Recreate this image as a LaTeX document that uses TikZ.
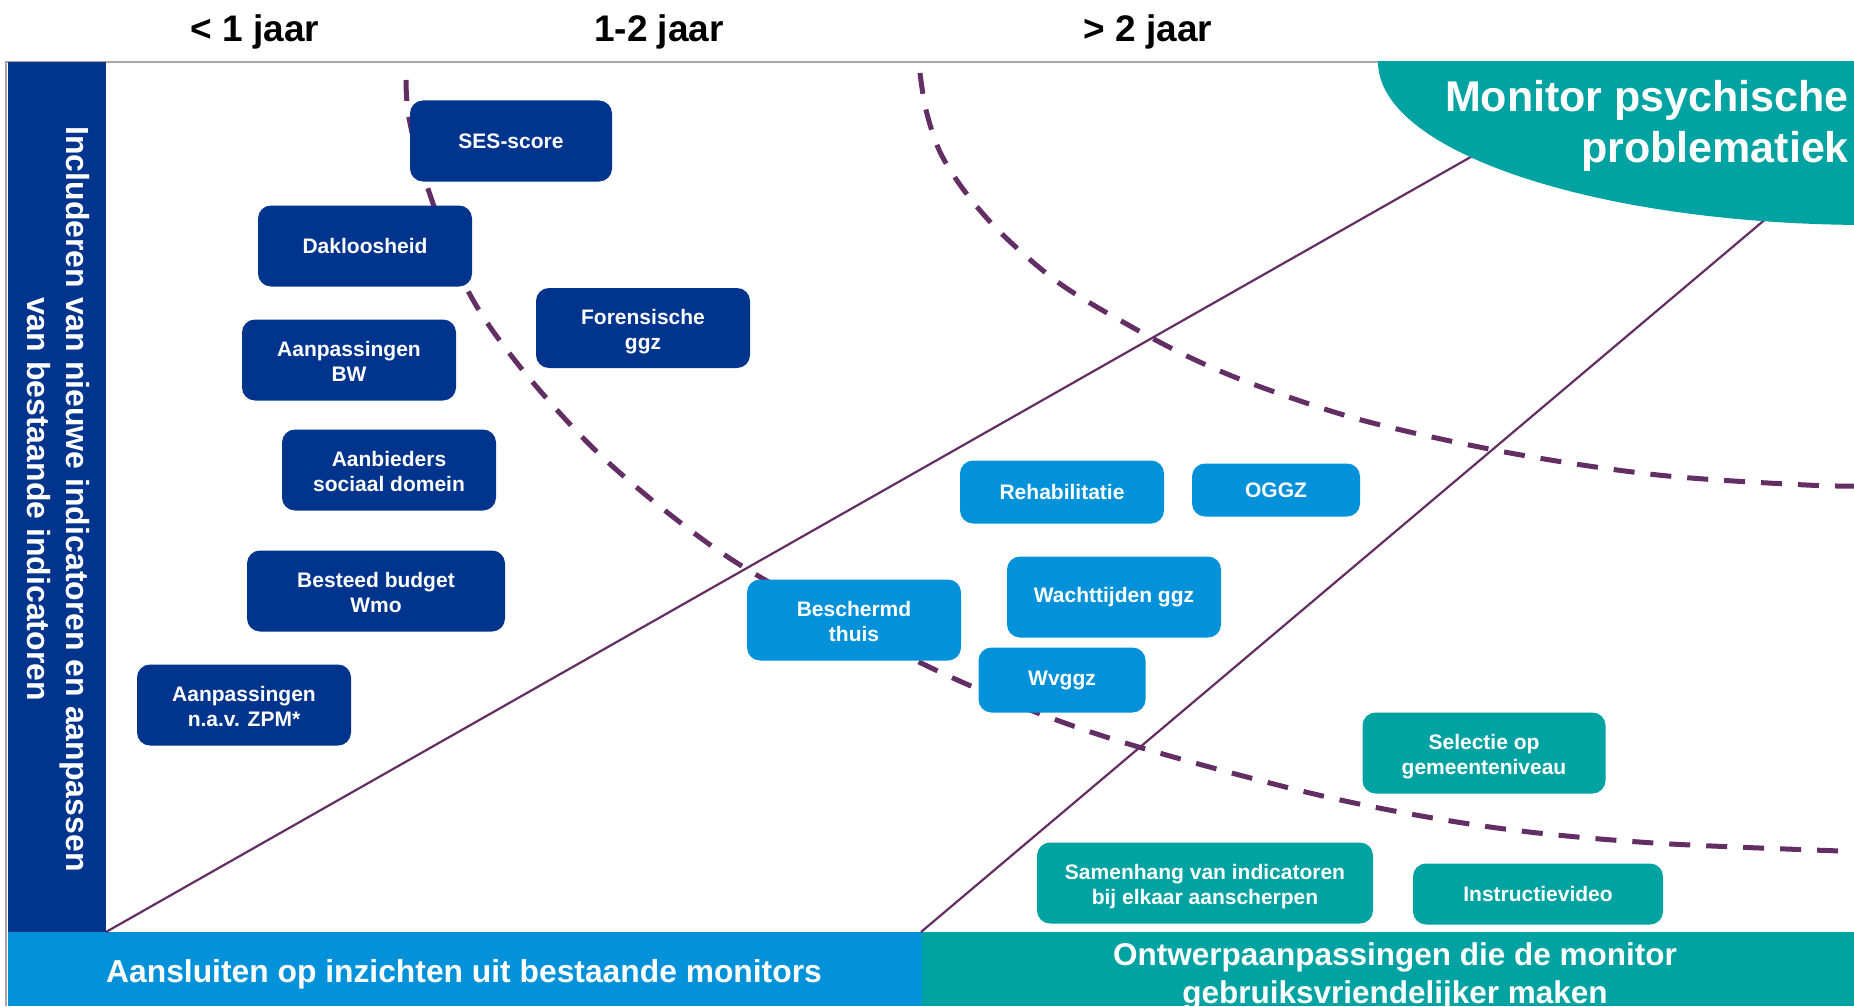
\documentclass[tikz,border=0pt]{standalone}
\usepackage{fontspec}
\setmainfont{Liberation Sans}
\definecolor{dblue}{RGB}{0,52,141}
\definecolor{lblue}{RGB}{3,146,218}
\definecolor{tealc}{RGB}{0,163,161}
\definecolor{purp}{RGB}{99,46,99}
\definecolor{grayline}{RGB}{166,166,166}
\newcommand{\dstrut}{\rule[-4.5pt]{0pt}{0pt}}
\newcommand{\ustrut}{\rule{0pt}{22.8pt}}
\tikzset{
  box/.style 2 args={rounded corners=13pt, minimum width=#1pt, minimum height=#2pt,
    inner sep=0pt, text=white, align=center, font=\fontsize{21}{25.5}\selectfont\bfseries},
  dbox/.style={fill=dblue},
  lbox/.style={fill=lblue},
  tbox/.style={fill=tealc},
  dashcurve/.style={draw=purp, line width=5pt, dash pattern=on 21pt off 16pt},
  solidline/.style={draw=purp, line width=2.2pt},
  header/.style={anchor=base, inner sep=0pt, font=\fontsize{37}{44}\selectfont\bfseries},
  wtext/.style={anchor=base, inner sep=0pt, text=white},
}
\begin{document}
\begin{tikzpicture}[x=1pt,y=-1pt]
\useasboundingbox (0,0) rectangle (1854,1006);
\clip (0,0) rectangle (1854,1006);
\fill[white] (0,0) rectangle (1854,1006);

% frame lines
\draw[grayline, line width=2pt] (6,1006) -- (6,62) -- (1380,62);
% left bar
\fill[dblue] (8,62) rectangle (106,932);
% bottom bars
\fill[lblue] (8,932) rectangle (922,1006);
\fill[tealc] (922,932) rectangle (1854,1006);

% solid diagonal lines
\coordinate (l1a) at (106,932);
\coordinate (l1b) at (1520,129);
\coordinate (l2a) at (921,932);
\coordinate (l2b) at (1800,190);
\draw[solidline] (l1a) -- (l1b);
\draw[solidline] (l2a) -- (l2b);

% teal ellipse
\begin{scope}
  \clip (0,62) rectangle (1854,1006);
  \fill[tealc] (1870,62) ellipse [x radius=492pt, y radius=163pt];
\end{scope}

% dashed curves
\draw[dashcurve] plot[smooth, tension=0.55] coordinates {(406,80) (409,118) (426,183) (466,287) (517,363) (593,448) (677,520) (760,577) (919,662) (1030,710) (1142,748) (1327,797) (1490,827) (1654,843) (1870,852)};
\draw[dashcurve] plot[smooth, tension=0.55] coordinates {(920,73) (926,110) (940,152) (966,193) (1003,235) (1059,283) (1123,322) (1189,357) (1258,386) (1365,421) (1510,453) (1658,475) (1806,485) (1870,486)};

% dark blue boxes
\node[box={202}{81}, dbox] (ses) at (511,141) {SES-score};
\node[box={214}{81}, dbox] (dak) at (365,246) {Dakloosheid};
\node[box={214}{80}, dbox] (foren) at (643,328) {\ustrut Forensische\\ggz\dstrut};
\node[box={214}{81}, dbox] (bw) at (349,360) {\ustrut Aanpassingen\\BW\dstrut};
\node[box={214}{81}, dbox] (aanb) at (389,470) {\ustrut Aanbieders\\sociaal domein\dstrut};
\node[box={258}{81}, dbox] (wmo) at (376,591) {\ustrut Besteed budget\\Wmo\dstrut};
\node[box={214}{81}, dbox] (zpm) at (244,705) {\ustrut Aanpassingen\\n.a.v. ZPM*\dstrut};

% light blue boxes
\node[box={204}{63}, lbox] (rehab) at (1062,492) {Rehabilitatie};
\node[box={168}{53}, lbox] (oggz) at (1276,490) {OGGZ};
\node[box={214}{81}, lbox] (wacht) at (1114,597) {Wachttijden ggz};
\node[box={214}{81}, lbox] (besch) at (854,620) {\ustrut Beschermd\\thuis\dstrut};
\node[box={167}{65}, lbox] (wvggz) at (1062,680) {Wvggz};

% teal boxes
\node[box={243}{81}, tbox] (sel) at (1484,753) {\ustrut Selectie op\\gemeenteniveau\dstrut};
\node[box={336}{81}, tbox] (sam) at (1205,883) {\ustrut Samenhang van indicatoren\\bij elkaar aanscherpen\dstrut};
\node[box={250}{61}, tbox] (instr) at (1538,894) {Instructievideo};

% headers
\node[header] (h1) at (255,42) {< 1 jaar};
\node[header] (h2) at (659,42) {1-2 jaar};
\node[header] (h3) at (1148,42) {> 2 jaar};

% monitor title
\node[wtext, anchor=base east, font=\fontsize{43}{50}\selectfont\bfseries] (mon1) at (1849,112) {Monitor psychische};
\node[wtext, anchor=base east, font=\fontsize{43}{50}\selectfont\bfseries] (mon2) at (1849,162) {problematiek};

% left vertical text
\node[text=white, rotate=-90, inner sep=0pt, align=center, font=\fontsize{32}{39}\selectfont\bfseries] (vert) at (58,499) {Includeren van nieuwe indicatoren en aanpassen\\van bestaande indicatoren};

% bottom texts
\node[wtext, font=\fontsize{31.8}{38}\selectfont\bfseries] (bl) at (464,982) {Aansluiten op inzichten uit bestaande monitors};
\node[wtext, font=\fontsize{31.5}{38}\selectfont\bfseries] (br1) at (1395,965) {Ontwerpaanpassingen die de monitor};
\node[wtext, font=\fontsize{31.5}{38}\selectfont\bfseries] (br2) at (1395,1003) {gebruiksvriendelijker maken};
\end{tikzpicture}
\end{document}
